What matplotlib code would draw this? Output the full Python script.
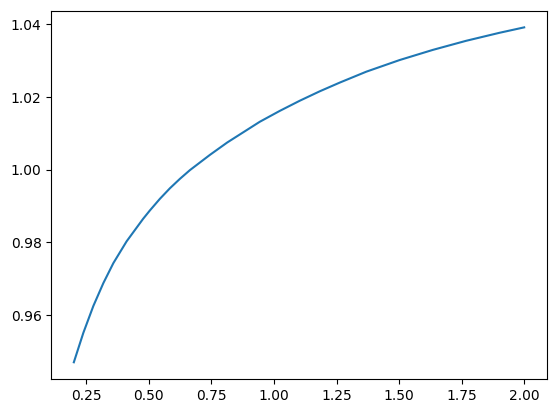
import matplotlib
matplotlib.use("Agg")
import matplotlib.pyplot as plt

x_vals = [0.200, 0.238, 0.278, 0.318, 0.358, 0.411, 0.477, 0.504, 0.544, 0.584,
          0.624, 0.664, 0.744, 0.813, 0.943, 1.023, 1.103, 1.183, 1.263, 1.369,
          1.502, 1.635, 1.768, 1.901, 2.000]
y_vals = [0.9470, 0.9551, 0.9625, 0.9688, 0.9743, 0.9803, 0.9865, 0.9888, 0.9920, 0.9949,
          0.9975, 0.9999, 1.0041, 1.0075, 1.0132, 1.0162, 1.0190, 1.0216, 1.0240, 1.0270,
          1.0302, 1.0330, 1.0355, 1.0377, 1.0392]

fig = plt.figure(figsize=(5.56, 4.13), dpi=100)
ax = fig.add_axes([0.0923, 0.0823, 0.891, 0.892])
ax.plot(x_vals, y_vals, color="#1f77b4", linewidth=1.5)
fig.savefig("out.png", dpi=100)
